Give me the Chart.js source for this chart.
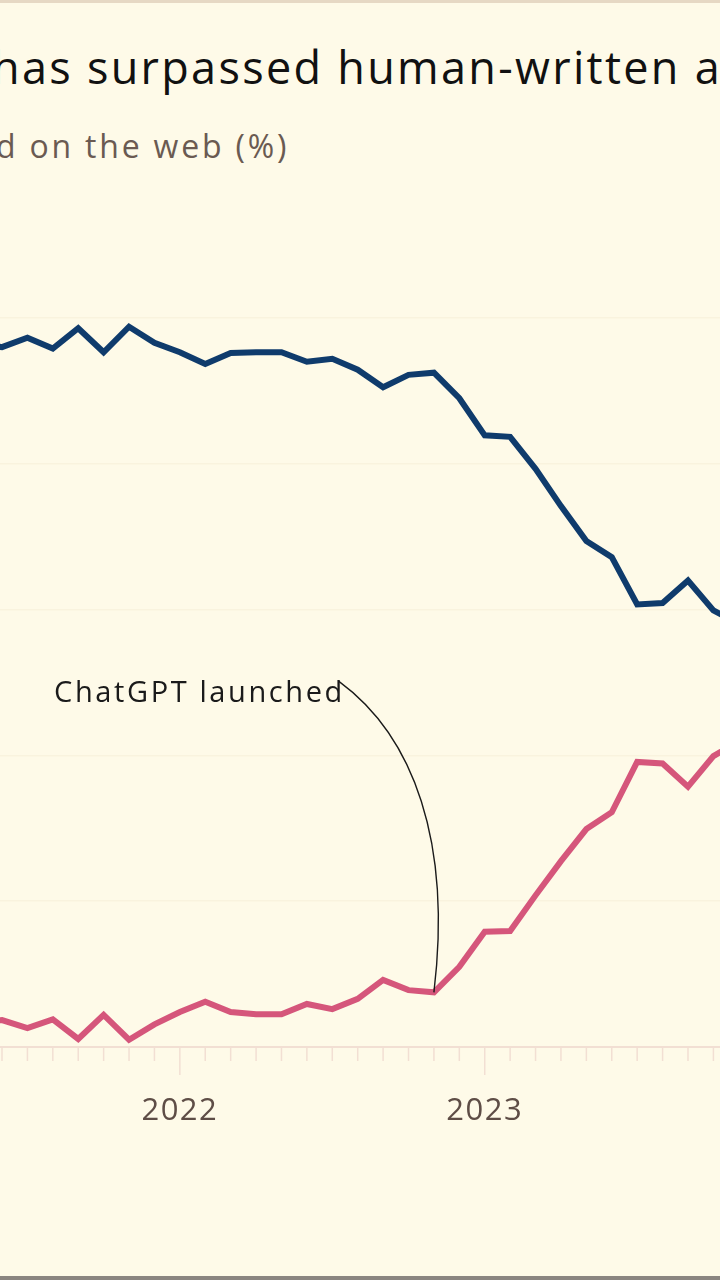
<!DOCTYPE html>
<html><head><meta charset="utf-8">
<script src="https://cdn.jsdelivr.net/npm/chart.js@4"></script>
<style>
html,body{margin:0;padding:0;width:720px;height:1280px;overflow:hidden;background:#fefae8;font-family:"Open Sans",sans-serif;}
#wrap{position:absolute;left:0;top:0;width:720px;height:1280px;}
.t{position:absolute;white-space:nowrap;}
#title{left:-8px;top:36px;font-size:45px;color:#111;letter-spacing:2.3px;}
#sub{left:-4px;top:124px;font-size:32px;color:#6a5a52;letter-spacing:2.8px;}
#topline{position:absolute;left:0;top:0;width:720px;height:3px;background:#e6d8c4;}
#botline{position:absolute;left:0;top:1276px;width:720px;height:4px;background:#8a8580;}
</style></head><body>
<div id="topline"></div>
<div class="t" id="title">has surpassed human-written a</div>
<div class="t" id="sub">d on the web (%)</div>
<div id="wrap"><canvas id="c" width="720" height="1280"></canvas></div>
<div id="botline"></div>
<script>
// month index 0 = Jan 2022
const months = [-8,-7,-6,-5,-4,-3,-2,-1,0,1,2,3,4,5,6,7,8,9,10,11,12,13,14,15,16,17,18,19,20,21,22];
const human = [96.5,96.0,97.3,95.8,98.6,95.3,98.8,96.6,95.3,93.7,95.2,95.3,95.3,94.0,94.4,92.9,90.5,92.2,92.5,89.0,83.9,83.7,79.3,74.2,69.4,67.2,60.7,60.9,64.0,59.9,58.0];
const ai = [3.5,3.7,2.6,3.8,1.1,4.4,1.0,3.1,4.8,6.2,4.8,4.5,4.5,5.9,5.2,6.6,9.2,7.8,7.5,11.0,15.8,15.9,20.8,25.5,29.9,32.2,39.1,38.9,35.7,39.9,42.0];
const yearTicks = [0,12];
const yearLabels = ["2022","2023"];
const annotation = {text:"ChatGPT launched", month:10};

const overlay = {
  id:'overlay',
  beforeDatasetsDraw(ch){
    const c=ch.ctx, x=ch.scales.x, y=ch.scales.y;
    const y0=y.getPixelForValue(0);
    c.save();
    c.strokeStyle='#f2dfd3'; c.lineWidth=2;
    c.beginPath(); c.moveTo(0,y0); c.lineTo(720,y0); c.stroke();
    c.lineWidth=1.5;
    for(let m=-8;m<=22;m++){
      const px=x.getPixelForValue(m);
      const len = yearTicks.includes(m)?28:14;
      c.beginPath(); c.moveTo(px,y0); c.lineTo(px,y0+len); c.stroke();
    }
    c.fillStyle='#5e4d46'; c.font='31px "Open Sans"'; c.textAlign='center'; c.textBaseline='middle';
    c.letterSpacing='1.5px';
    yearTicks.forEach((m,i)=>c.fillText(yearLabels[i], x.getPixelForValue(m), y0+64));
    c.restore();
  },
  afterDatasetsDraw(ch){
    const c=ch.ctx, x=ch.scales.x, y=ch.scales.y;
    const i=months.indexOf(annotation.month);
    const ex=x.getPixelForValue(months[i]), ey=y.getPixelForValue(ai[i]);
    const tx=x.getPixelForValue(-4.95), ty=y.getPixelForValue(48.5);
    c.save();
    c.fillStyle='#1a1a1a'; c.font='29px "Open Sans"'; c.textBaseline='middle'; c.textAlign='left';
    c.letterSpacing='2.6px';
    c.fillText(annotation.text, tx, ty);
    const sx = tx + c.measureText(annotation.text).width - 6, sy = ty-12;
    c.strokeStyle='#1a1a1a'; c.lineWidth=1.4;
    c.beginPath(); c.moveTo(sx,sy);
    c.bezierCurveTo(sx+75, sy+55, ex+18, ey-150, ex, ey);
    c.stroke();
    c.restore();
  }
};

new Chart(document.getElementById('c'),{
  type:'line',
  data:{datasets:[
    {data:months.map((m,i)=>({x:m,y:human[i]})),borderColor:'#0f3b6c',borderWidth:6,pointRadius:0,tension:0},
    {data:months.map((m,i)=>({x:m,y:ai[i]})),borderColor:'#d5567b',borderWidth:6,pointRadius:0,tension:0}
  ]},
  options:{
    responsive:false,animation:false,
    layout:{padding:{left:0,right:0,top:318,bottom:233}},
    plugins:{legend:{display:false},tooltip:{enabled:false}},
    scales:{
      x:{type:'linear',min:-7.0788,max:21.26,display:false},
      y:{min:0,max:100,display:true,ticks:{display:false,stepSize:20},
         border:{display:false},grid:{color:'#f9f3de',lineWidth:1.5,drawTicks:false}}
    }
  },
  plugins:[overlay]
});
</script></body></html>
